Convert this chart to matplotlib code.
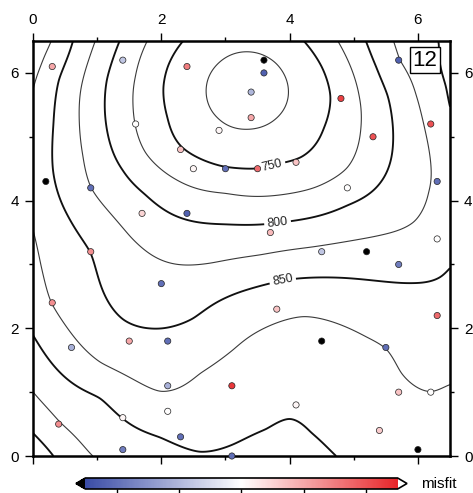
import numpy as np
import matplotlib
matplotlib.use("Agg")
import matplotlib.pyplot as plt
from matplotlib.colors import LinearSegmentedColormap, Normalize

plt.rcParams['font.family'] = ['Liberation Sans', 'DejaVu Sans']

# ---- data points (x, y) and their misfit ----
pts_x = [0.3, 1.4, 2.4, 3.6, 3.6, 3.4, 3.4, 2.9, 1.6, 4.8, 5.3, 6.2, 5.7,
         2.3, 2.5, 3.0, 3.5, 4.1, 4.9, 6.3, 0.2, 0.9, 1.7, 2.4, 3.7, 0.9,
         4.5, 5.2, 5.7, 6.3, 2.0, 0.3, 3.8, 6.3, 1.5, 2.1, 0.6, 4.5, 5.5,
         2.1, 3.1, 5.7, 6.2, 1.4, 2.1, 4.1, 0.4, 2.3, 1.4, 3.1, 5.4, 6.0]
pts_y = [6.1, 6.2, 6.1, 6.2, 6.0, 5.7, 5.3, 5.1, 5.2, 5.6, 5.0, 5.2, 6.2,
         4.8, 4.5, 4.5, 4.5, 4.6, 4.2, 4.3, 4.3, 4.2, 3.8, 3.8, 3.5, 3.2,
         3.2, 3.2, 3.0, 3.4, 2.7, 2.4, 2.3, 2.2, 1.8, 1.8, 1.7, 1.8, 1.7,
         1.1, 1.1, 1.0, 1.0, 0.6, 0.7, 0.8, 0.5, 0.3, 0.1, 0.0, 0.4, 0.1]
misfit = [10, -8, 15, -30, -22, -10, 10, 1, 0, 22, 20, 20, -22,
          7, 1, -20, 17, 7, 0, -20, -30, -20, 5, -22, 8, 13,
          -8, -30, -18, 0, -20, 13, 7, 17, 10, -20, -11, -30, -20,
          -11, 23, 7, 0, 1, 0, 1, 13, -20, -18, -20, 6, -30]

# ---- contour traces (x, y) per level ----
c725 = [(2.7, 5.72), (2.89, 6.15), (3.34, 6.33), (3.79, 6.15), (3.98, 5.72),
        (3.79, 5.29), (3.34, 5.12), (2.89, 5.29)]
c750 = [(2.34, 6.5), (2.1, 6.1), (2.03, 5.78), (2.1, 5.3), (2.3, 4.85),
        (2.97, 4.53), (3.5, 4.5), (3.86, 4.59), (4.17, 4.67), (4.53, 5.14),
        (4.64, 5.64), (4.5, 6.1), (4.22, 6.5)]
c775 = [(1.78, 6.5), (1.6, 5.95), (1.56, 5.5), (1.59, 5.2), (1.75, 4.75),
        (2.25, 4.32), (3.0, 4.12), (3.86, 4.09), (4.38, 4.2), (4.9, 4.51),
        (5.11, 5.14), (5.08, 5.65), (4.95, 6.1), (4.75, 6.5)]
c800 = [(1.35, 6.5), (1.15, 5.9), (1.12, 5.4), (1.2, 4.9), (1.4, 4.48),
        (1.75, 4.1), (2.14, 3.8), (3.0, 3.63), (4.02, 3.68), (4.9, 3.93),
        (5.42, 4.29), (5.61, 4.87), (5.53, 5.65), (5.35, 6.1), (5.19, 6.5)]
c825 = [(0.97, 6.5), (0.78, 5.9), (0.72, 5.3), (0.78, 4.7), (0.9, 4.2),
        (1.52, 3.43), (2.0, 3.07), (2.77, 3.02), (3.55, 3.15), (4.33, 3.27),
        (5.42, 3.46), (5.94, 3.66), (6.16, 4.13), (6.16, 4.87), (5.97, 5.65),
        (5.7, 6.2), (5.61, 6.5)]
c850 = [(0.62, 6.5), (0.4, 5.9), (0.32, 5.2), (0.31, 4.48), (0.55, 3.75),
        (0.9, 3.2), (1.41, 2.13), (1.83, 2.0), (2.5, 2.15), (3.23, 2.57),
        (3.95, 2.76), (4.84, 2.79), (5.94, 2.71), (6.36, 2.8), (6.5, 2.96),
        (6.4, 6.5), (6.44, 5.8), (6.5, 5.45)]
c875 = [(0.3, 6.5), (0.12, 6.1), (0.0, 5.73), (0.0, 3.55), (0.12, 3.0),
        (0.28, 2.4), (1.05, 1.46), (1.98, 1.0), (2.6, 1.3), (3.12, 1.66),
        (4.22, 2.19), (5.2, 1.86), (5.5, 1.7), (5.73, 1.3), (6.2, 0.99),
        (6.5, 1.14)]
c900 = [(0.0, 1.9), (1.05, 0.92), (1.98, 0.3), (2.6, 0.05), (3.12, 0.18),
        (3.64, 0.41), (4.0, 0.6), (4.33, 0.36), (4.72, 0.0)]
c925 = [(0.0, 1.0), (0.42, 0.52), (0.92, 0.0)]
c950 = [(0.0, 0.36), (0.32, 0.0)]
# a few spot values between the traces
spot_x = [3.34, 0.0, 0.0, 6.5, 6.5, 6.5, 0.0, 3.0, 6.5, 3.8, 5.5, 2.6]
spot_y = [5.72, 0.0, 6.5, 6.5, 0.0, 4.2, 4.6, 2.15, 2.0, 0.0, 0.5, 0.0]
spot_z = [712, 965, 888, 877, 887, 834, 866, 862, 862, 910, 885, 902]

traces = [(725, c725), (750, c750), (775, c775), (800, c800), (825, c825),
          (850, c850), (875, c875), (900, c900), (925, c925), (950, c950)]

levels = [700, 725, 750, 775, 800, 825, 850, 875, 900, 925, 950]
major_levels = [700, 750, 800, 850, 900, 950]
label_levels = [750, 800, 850]
label_pos = [(3.73, 4.54), (3.81, 3.67), (3.89, 2.76)]
cbar_ticks = [-20, -10, 0, 10, 20]

# ---- thin plate spline surface through the traced values ----
sx, sy, sz = list(spot_x), list(spot_y), list(spot_z)
for lev, tr in traces:
    for px, py in tr:
        sx.append(px); sy.append(py); sz.append(lev)
sx = np.array(sx, float); sy = np.array(sy, float); sz = np.array(sz, float)
n = len(sx)

def phi(r):
    with np.errstate(divide='ignore', invalid='ignore'):
        v = r**2 * np.log(r)
    return np.nan_to_num(v)

r = np.hypot(sx[:, None] - sx[None, :], sy[:, None] - sy[None, :])
K = phi(r) + np.eye(n) * 0.04
P = np.column_stack([np.ones(n), sx, sy])
A = np.zeros((n + 3, n + 3))
A[:n, :n] = K
A[:n, n:] = P
A[n:, :n] = P.T
b = np.concatenate([sz, np.zeros(3)])
sol = np.linalg.solve(A, b)
w, a = sol[:n], sol[n:]

gx = np.linspace(0, 6.5, 261)
gy = np.linspace(0, 6.5, 261)
GX, GY = np.meshgrid(gx, gy)
rr = np.hypot(GX[..., None] - sx, GY[..., None] - sy)
Z = phi(rr) @ w + a[0] + a[1] * GX + a[2] * GY

# ---- figure ----
W, H = 473, 493
fig = plt.figure(figsize=(W / 100, H / 100), dpi=100)
ax = fig.add_axes([33 / W, 1 - 456 / H, 417 / W, 415 / H])

thin = [l for l in levels if l not in major_levels]
plain_major = [l for l in major_levels if l not in label_levels]
ax.contour(GX, GY, Z, levels=thin, colors='#3a3a3a', linewidths=0.8)
ax.contour(GX, GY, Z, levels=plain_major, colors='#111111', linewidths=1.35)
cs = ax.contour(GX, GY, Z, levels=label_levels, colors='#111111', linewidths=1.35)
ax.clabel(cs, fmt='%d', fontsize=9, inline=True,
          inline_spacing=3, manual=label_pos, colors='#222222')

cmap = LinearSegmentedColormap.from_list('polar', ['#3a4ca6', '#ffffff', '#e8262a'])
cmap.set_under('black')
cmap.set_over('white')
norm = Normalize(-25, 25)
ax.scatter(pts_x, pts_y, c=misfit, cmap=cmap, norm=norm, s=20,
           edgecolors='#222222', linewidths=0.5, zorder=5, clip_on=False)

ax.set_xlim(0, 6.5)
ax.set_ylim(0, 6.5)
ax.set_xticks([0, 2, 4, 6])
ax.set_yticks([0, 2, 4, 6])
ax.set_xticks([1, 3, 5], minor=True)
ax.set_yticks([1, 3, 5], minor=True)
ax.tick_params(which='both', direction='out', top=True, right=True,
               labeltop=True, labelbottom=False, labelright=True,
               labelsize=11, width=1.0, pad=4)
ax.tick_params(which='major', length=6)
ax.tick_params(which='minor', length=3)
for s in ax.spines.values():
    s.set_linewidth(1.8)

ax.text(0.94, 0.954, '12', transform=ax.transAxes, fontsize=16,
        ha='center', va='center', zorder=6,
        bbox=dict(boxstyle='square,pad=0.12', fc='white', ec='black', lw=1.0))

# ---- colorbar ----
cax = fig.add_axes([76 / W, 1 - 489 / H, 331 / W, 11 / H])
sm = plt.cm.ScalarMappable(norm=norm, cmap=cmap)
cb = fig.colorbar(sm, cax=cax, orientation='horizontal', extend='both',
                  extendfrac=0.03, ticks=cbar_ticks)
cb.ax.tick_params(length=4, labelbottom=False, width=1.0)
cb.outline.set_linewidth(1.2)
fig.text(421 / W, 1 - 484 / H, 'misfit', fontsize=11, ha='left', va='center')

fig.savefig('out.png', dpi=100)
